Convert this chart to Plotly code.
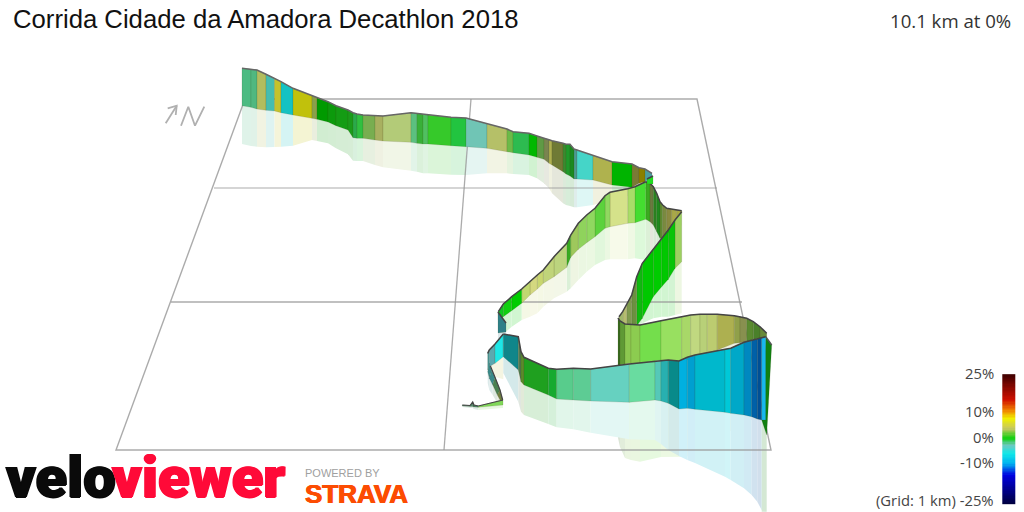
import numpy as np
import plotly.graph_objects as go

TITLE = "Corrida Cidade da Amadora Decathlon 2018"
SUMMARY = "10.1 km at 0%"

# Far stretch of the route
a_x = [242,251,257,266,274.5,281,293,312,317,328,336,348,353,357,363,375,383,411,417,423,428,451,466,
       487,507,513,529,537,544,549,552,563,566,570,574,577,593,612,632,639,645,652]
a_top = [68.3,69,70,74.3,78.3,81.7,88.3,95.7,97.7,101.7,105.7,110,112.7,114,115,115.7,116,112.7,113.3,114.3,115,117.3,118,
         124,129,131.7,133.3,136,138.3,139.3,140.7,143.3,144.3,144.3,149,150,155.7,161.7,164,167.7,169,173.3]
a_base = [105.7,107.3,109,110.3,111,112.7,115,118.3,119.3,122,125.7,130,137.7,138.3,138.3,140,141,142.3,143.3,144,144,145.7,146.7,
          148.3,151.7,152.7,155,157.3,159.3,163.3,165,171.7,174,176,179,179,180,185,187.3,183.3,181.7,176.7]
a_shadow = [144,146,146.7,147.3,147,146.7,145.7,140,141,143.3,148.3,154.3,160.7,161,161,165,167.3,170.7,171.7,173.3,173.3,174.7,175,
            173.3,173.3,174,175,178.3,183.3,188.3,193.3,203.3,205,206,207.3,207.3,205,200,195,190,185,178]
a_col = ["#4dbb82","#50b880","#b2bd5e","#45bdb0","#c5c22c","#14c2c2","#c1c10c","#8aa04a","#009a00","#0c9a0c","#149c14",
         "#1a9c1a","#2aaa4a","#30c040","#78ae50","#a8b060","#b3cb78","#5cc080","#38b038","#50c060","#36c92a","#22c440",
         "#70c5b5","#b5c068","#6cba48","#2dbb50","#00b800","#5f9a45","#7a8450","#aeb050","#6f7a35","#3a8a30","#1f9a2a",
         "#1a8a20","#4c9a90","#45d5c8","#afb24e","#00b400","#7a7a35","#8a8000","#4a9ea0"]

# Small turn at the far apex
g_x = [647,653]
g_top = [179,176]
g_base = [184,184]
g_shadow = [184,184]
g_col = ["#22dd22"]

# Dark stretch to the right of the apex
e_x = [645.7,650,653.3,656.7,660,662.7,666.7,671.7,676.7,681.7]
e_top = [181.7,183.3,186.7,193.3,201.7,205,208.3,209.3,210,210.7]
e_base = [219.3,221.7,225,231.7,238.3,239.3,235,228.3,220,211.7]
e_shadow = [260,258,256,252,250,248,244,240,232,225]
e_col = ["#3aaa20","#6a7a40","#2a8020","#1f8a1f","#5d8a30","#7a8a40","#8a8a40","#a8a848","#a8a840"]

# Stretch running down-left from the apex
b_x = [645.7,635,627.7,610,605,595,586.7,578.3,570.7,566.7,554,543.3,537.3,530,521.7,511.7,503.3,498.3]
b_top = [181.7,186.7,188.7,192.3,195.7,208.3,215,223.3,235,243.3,256.7,270,275,281.7,289,296.7,304,311.7]
b_base = [219.3,222.7,223.3,226.7,228.3,236.7,242.7,249.3,257.3,267.3,276.7,283.3,289,295,303.3,310.7,316.7,320]
b_shadow = [260,258.3,259.3,259.3,260,265,271.7,280,288.3,291.7,298.3,306.7,313.3,316.7,320,326.7,334,334]
b_col = ["#44dd30","#a8dd68","#d5e28a","#90d860","#5bd23c","#90d860","#8fd35c","#9ec85c","#38aa20","#bcd47e","#c0d47a",
         "#c8d670","#d4d880","#c0d870","#00cc00","#10cf10","#10c820"]

h_x = [498,506]
h_top = [312,323]
h_base = [333,332]
h_shadow = [340,338]
h_col = ["#2f8088"]

# Bright wall dropping to the lower loop
f_x = [681.7,675,668.3,661.7,653.3,642.3,636.7,631.7,626.7,622.7,619]
f_top = [211.7,220,230,239,249.3,263.3,276.7,295,305,311.7,316.7]
f_base = [261.7,268.3,279.3,286.7,296.7,318.3,326,326,326,326,326]
f_shadow = [313.3,315,316.7,316.7,318.3,323.3,326,326,326,326,326]
f_col = ["#9cd060","#08c408","#00c800","#00cc00","#00c800","#10b810","#6c9040","#7f9a4f","#b5bc70","#a0b868"]

# Back of the lower loop
c_x = [618,620,625,631,640,661,681.7,690.7,700,707.3,717.3,734.3,740,746.7,753.3,760,766.7]
c_top = [318,321,324,324.7,325,320.7,316.7,315,314.3,314.3,314.3,315.7,316.7,318.3,321.7,326.7,333.3]
c_base = [365,365,364,363.3,363.3,360,361.7,358.3,355,353.3,350,343.3,342.7,341.7,339.3,338.3,336.7]
c_shadow = [438,447,458,460,461.7,457,456.7,456,445,440,435,430,425,420,420,420,420]
c_col = ["#386c20","#5f9a35","#8cc850","#8ccc50","#74de4c","#98e060","#a8d868","#c0d880","#b8d078","#bccc70","#adb050",
         "#90a04a","#88904f","#5a8a30","#4a802a","#688a3a"]

# Front of the lower loop
d_x = [503.3,518.3,521,524,548.3,556.7,573.3,590.7,629.3,655,661,668.3,679,687.3,695,725,730.7,744,751.7,757.3,761.7,765.7]
d_top = [334,336.7,351.7,357.3,368.3,369.3,368.3,369,364,361.7,360.7,360,361,357.3,355,349,348.3,342.3,340,339,337.7,336.7]
d_base = [356.7,370,381.7,385,395,399,400,401,402.3,400,401,403.3,409,408.3,409.3,412.3,413.3,415,416.7,419,420,420]
d_shadow = [373,401.7,411.7,415,424,427.3,429.3,432.7,439.3,440,444,450,456,460,463,476.7,480,488.3,495,501.7,510,511.7]
d_col = ["#10868a","#507a50","#5c8a2c","#1fa01f","#16aa30","#58cc8c","#5dcc94","#66d1c0","#69dca0","#55c8b8","#28b0b0",
         "#088a8a","#00b0e0","#009fd0","#00b8cc","#00c8d8","#00a8c8","#0088c0","#0060a8","#004f95","#18b8ee"]

# Far end wall of the lower loop
i_x = [765.7,771.7]
i_base_x = [761.7,766.7]
i_top = [336.7,345]
i_base = [420,435]
i_shadow = [511.7,511.7]
i_col = ["#108010"]

# Start of the route
j_x = [487.7,489.3,495,503.3]
j_top = [353.3,350,344,334]
j_base = [370,366.7,363.3,356.7]
j_shadow = [383,380,377,373]
j_col = ["#4a9a9a","#5ca8b0","#1ee6e6"]

k_x = [489.3,491.7,495,500,502.7]
k_base_x = [487.7,489.3,492.7,497.3,500]
k_top = [363.3,370,377.3,390,400]
k_base = [371.7,378.3,385,395,400]
k_shadow = [383,390,395,403,405]
k_col = ["#3a8a8a","#3a8a8a","#4a8050","#708040"]

l_x = [462.3,470,472.7,474,478.3,503]
l_top = [405,405.5,402,405,406,400]
l_base = [406,406.5,406.5,407,407.3,405]
l_shadow = [407,408,408,409,410,408]
l_col = ["#4a8a6a","#4a8a6a","#3a7a5a","#4a8a6a","#80d858"]

# Ground grid
grid_outer_x = [245,697,771,116,245]
grid_outer_y = [99,99,450,450,99]
grid_mid_x = [471,444]
grid_mid_y = [99,450]
grid_h1_x = [214,717]
grid_h1_y = [188,188]
grid_h2_x = [171,742]
grid_h2_y = [302,302]

# Gradient key
key_labels = ["25%","10%","0%","-10%","(Grid: 1 km) -25%"]
key_label_y = [373,411,437,462,500]
key_grades = [25,15.2,11.3,8,4.2,0.3,-2.3,-5.6,-9.5,-14,-25]
key_colors = ["#400000","#d01000","#f08000","#f0f000","#c8c860","#10d010","#70c8c0","#10e8e8","#00b0f0","#0000e0","#000040"]

compass_arrow_x = [165.7,176.7]
compass_arrow_y = [123.3,105.7]
compass_head_x = [167.7,176.7,175.7]
compass_head_y = [108.3,105.7,115]
compass_n_x = [181,188.3,195,204.3]
compass_n_y = [125.7,106.7,125.7,106.7]


def pale(hex_col, keep=0.18):
    r, g, b = (int(hex_col[i:i + 2], 16) for i in (1, 3, 5))
    mix = lambda v: round(v * keep + 255 * (1 - keep))
    return f"rgb({mix(r)},{mix(g)},{mix(b)})"


def poly(fig, xs, ys, fill, line="rgba(0,0,0,0)", width=0):
    fig.add_trace(go.Scatter(x=xs, y=ys, mode="lines", fill="toself", fillcolor=fill,
                             line=dict(color=line, width=width), hoverinfo="skip", showlegend=False))


def path(fig, xs, ys, color, width):
    fig.add_trace(go.Scatter(x=xs, y=ys, mode="lines", line=dict(color=color, width=width),
                             hoverinfo="skip", showlegend=False))


def shadows(fig, x, base, shadow, cols):
    assert len(x) == len(base) == len(shadow) == len(cols) + 1
    for i, c in enumerate(cols):
        poly(fig, [x[i], x[i + 1], x[i + 1], x[i]], [base[i], base[i + 1], shadow[i + 1], shadow[i]], pale(c))


def wall(fig, x, top, base, cols, base_x=None, outline="#444444", width=1.5):
    bx = base_x if base_x is not None else x
    assert len(x) == len(top) == len(base) == len(bx) == len(cols) + 1
    for i, c in enumerate(cols):
        poly(fig, [x[i], x[i + 1], bx[i + 1], bx[i], x[i]], [top[i], top[i + 1], base[i + 1], base[i], top[i]],
             c, "rgba(60,60,20,0.2)", 0.7)
    path(fig, x, top, outline, width)


fig = go.Figure()

# shadows, back to front
shadows(fig, a_x, a_base, a_shadow, a_col)
shadows(fig, e_x, e_base, e_shadow, e_col)
shadows(fig, b_x, b_base, b_shadow, b_col)
shadows(fig, f_x, f_base, f_shadow, f_col)
shadows(fig, c_x, c_base, c_shadow, c_col)
shadows(fig, l_x, l_base, l_shadow, l_col)
shadows(fig, k_base_x, k_base, k_shadow, k_col)
poly(fig, [490.7,503.3,503.3,495], [365,357.3,379.3,376.7], pale("#c8c860"))
shadows(fig, h_x, h_base, h_shadow, h_col)
shadows(fig, d_x, d_base, d_shadow, d_col)
shadows(fig, i_base_x, i_base, i_shadow, i_col)

# ground grid
for gx, gy, w in [(grid_outer_x, grid_outer_y, 1.4), (grid_mid_x, grid_mid_y, 1.3),
                  (grid_h1_x, grid_h1_y, 1.2), (grid_h2_x, grid_h2_y, 1.4)]:
    path(fig, gx, gy, "rgba(150,150,150,0.8)", w)

# walls, back to front
wall(fig, a_x, a_top, a_base, a_col, outline="#666666")
wall(fig, e_x, e_top, e_base, e_col)
wall(fig, g_x, g_top, g_base, g_col)
wall(fig, b_x, b_top, b_base, b_col)
wall(fig, f_x, f_top, f_base, f_col)
wall(fig, h_x, h_top, h_base, h_col)
wall(fig, c_x, c_top, c_base, c_col)
wall(fig, l_x, l_top, l_base, l_col, width=1.2)
wall(fig, k_x, k_top, k_base, k_col, base_x=k_base_x, width=1.2)
wall(fig, j_x, j_top, j_base, j_col)
wall(fig, i_x, i_top, i_base, i_col, base_x=i_base_x, outline="#555555")
wall(fig, d_x, d_top, d_base, d_col)

# compass
for cx, cy in [(compass_arrow_x, compass_arrow_y), (compass_head_x, compass_head_y), (compass_n_x, compass_n_y)]:
    path(fig, cx, cy, "#b0b0b0", 1.8)

# gradient key as a heatmap
span = key_grades[0] - key_grades[-1]
scale = sorted(((g - key_grades[-1]) / span, c) for g, c in zip(key_grades, key_colors))
rows = np.arange(-25, 25.5, 0.5)
fig.add_trace(go.Heatmap(z=[[v] for v in rows], x=[1002.3, 1015], y=439 - rows * 2.567,
                         colorscale=scale, zmin=-25, zmax=25, showscale=False, hoverinfo="skip"))

black_edge = "1px 0 0 #0a0a0a, -1px 0 0 #0a0a0a, 0 0.8px 0 #0a0a0a"
red_edge = "1px 0 0 #ff0a38, -1px 0 0 #ff0a38, 0 0.8px 0 #ff0a38"
orange_edge = "0.6px 0 0 #fc4c02, -0.6px 0 0 #fc4c02"
notes = [
    dict(x=11, y=19, text=TITLE, xanchor="left", font=dict(family="Liberation Sans", size=25.7, color="#111111")),
    dict(x=1013, y=20, text=SUMMARY, xanchor="right", font=dict(family="Open Sans", size=18.6, color="#333333")),
    dict(x=4, y=477, text="velo", xanchor="left",
         font=dict(family="Roboto", size=58, color="#0a0a0a", weight=900, shadow=black_edge)),
    dict(x=110, y=477, text="viewer", xanchor="left",
         font=dict(family="Roboto", size=58, color="#ff0a38", weight=900, shadow=red_edge)),
    dict(x=303, y=473, text="POWERED BY", xanchor="left", font=dict(family="Liberation Sans", size=11, color="#a0a0a0")),
    dict(x=303, y=494, text="STRAVA", xanchor="left",
         font=dict(family="Liberation Sans", size=26, color="#fc4c02", weight=700, shadow=orange_edge)),
]
for t, y in zip(key_labels, key_label_y):
    notes.append(dict(x=996, y=y, text=t, xanchor="right", font=dict(family="Open Sans", size=14.8, color="#444444")))
for n in notes:
    n.update(xref="x", yref="y", yanchor="middle", showarrow=False, align="left")

fig.update_layout(
    width=1024, height=512, autosize=False, margin=dict(l=0, r=0, t=0, b=0),
    paper_bgcolor="white", plot_bgcolor="white", showlegend=False, annotations=notes,
    xaxis=dict(range=[0, 1024], visible=False, fixedrange=True),
    yaxis=dict(range=[512, 0], visible=False, fixedrange=True),
)
fig.write_html("out.html", config=dict(displayModeBar=False),
               post_script="document.body.style.margin='0';document.body.style.overflow='hidden';")
